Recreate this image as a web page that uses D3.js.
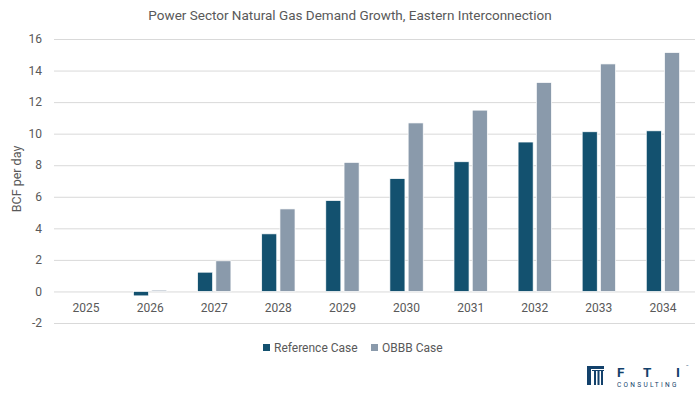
<!DOCTYPE html>
<html><head><meta charset="utf-8">
<script src="https://cdn.jsdelivr.net/npm/d3@7"></script>
<style>body{margin:0;background:#fff}svg{display:block;font-family:Roboto,"Open Sans",sans-serif}</style>
</head><body><svg id="c" width="700" height="400"></svg>
<script>
const years = ["2025","2026","2027","2028","2029","2030","2031","2032","2033","2034"];
const referenceCase = [0, -0.28, 1.22, 3.65, 5.76, 7.15, 8.22, 9.47, 10.12, 10.18];
const obbbCase = [0, 0.08, 1.94, 5.23, 8.18, 10.68, 11.49, 13.24, 14.42, 15.14];
const yTicks = [-2, 0, 2, 4, 6, 8, 10, 12, 14, 16];
const seriesNames = ["Reference Case", "OBBB Case"];
const colors = ["#13516f", "#8a9aab"];

(function () {
const svg = d3.select("#c");
const pl = 54, pr = 695, pt = 39, pb = 323;
const x = d3.scaleBand().domain(years).range([pl, pr]).padding(0);
const y = d3.scaleLinear().domain([-2, 16]).range([pb, pt]);
const textCol = "#595959";

svg.append("g").selectAll("line").data(yTicks).join("line")
  .attr("x1", pl).attr("x2", pr)
  .attr("y1", d => y(d) + 0.5).attr("y2", d => y(d) + 0.5)
  .attr("stroke", "#d9d9d9").attr("stroke-width", 1);

svg.append("g").selectAll("text").data(yTicks).join("text")
  .attr("x", 42).attr("y", d => y(d)).attr("dy", "0.35em")
  .attr("text-anchor", "end").attr("font-size", 12).attr("fill", textCol)
  .text(d => d);

const step = x.bandwidth();
const bw = step * 0.235, gap = step * 0.05;
const series = [referenceCase, obbbCase];
series.forEach((vals, si) => {
  svg.append("g").selectAll("rect").data(years).join("rect")
    .attr("x", (d) => {
      const c = x(d) + step / 2;
      return si === 0 ? c - gap / 2 - bw : c + gap / 2;
    })
    .attr("width", bw)
    .attr("y", (d, i) => Math.min(y(vals[i]), y(0)))
    .attr("height", (d, i) => Math.abs(y(vals[i]) - y(0)))
    .attr("fill", colors[si])
    .attr("stroke", "#ffffff").attr("stroke-width", 0.7);
});

svg.append("g").selectAll("text").data(years).join("text")
  .attr("x", d => x(d) + step / 2).attr("y", y(0) + 21)
  .attr("text-anchor", "middle").attr("font-size", 12).attr("fill", textCol)
  .text(d => d);

svg.append("text").attr("x", 350).attr("y", 20).attr("text-anchor", "middle")
  .attr("font-size", 13.5).attr("fill", textCol)
  .text("Power Sector Natural Gas Demand Growth, Eastern Interconnection");

svg.append("text").attr("transform", `translate(21,${(y(16)+y(-2))/2 - 2}) rotate(-90)`)
  .attr("text-anchor", "middle").attr("font-size", 12.5).attr("fill", textCol)
  .text("BCF per day");

const lg = svg.append("g");
const legendX = [263, 371];
seriesNames.forEach((n, i) => {
  lg.append("rect").attr("x", legendX[i]).attr("y", 344).attr("width", 7).attr("height", 7).attr("fill", colors[i]);
  lg.append("text").attr("x", legendX[i] + 11).attr("y", 347.5).attr("dy", "0.35em")
    .attr("font-size", 12).attr("fill", textCol).text(n);
});

const logo = svg.append("g").attr("fill", "#13416b");
logo.append("rect").attr("x", 587).attr("y", 366).attr("width", 17).attr("height", 3);
logo.append("rect").attr("x", 587).attr("y", 366).attr("width", 4).attr("height", 19);
[594, 597.5, 601].forEach(px => logo.append("rect").attr("x", px).attr("y", 371).attr("width", 2).attr("height", 14));
logo.append("rect").attr("x", 592).attr("y", 370).attr("width", 12).attr("height", 1);
[["F", 617], ["T", 643], ["I", 676]].forEach(([t, px]) =>
  logo.append("text").attr("x", px).attr("y", 377).attr("font-size", 13.5).attr("font-weight", "bold").text(t));
logo.append("text").attr("x", 686).attr("y", 368).attr("font-size", 4).text("™");
logo.append("text").attr("x", 617).attr("y", 387).attr("font-size", 6.5).attr("letter-spacing", 2.3).text("CONSULTING");
})();
</script></body></html>
